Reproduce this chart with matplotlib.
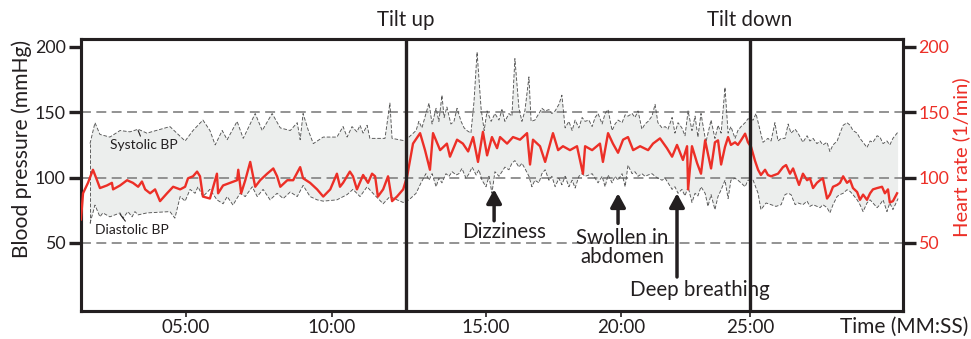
import numpy as np
import matplotlib
matplotlib.use("Agg")
import matplotlib.pyplot as plt
import matplotlib.transforms as mtransforms

plt.rcParams['font.family'] = ['Lato', 'DejaVu Sans']

# ---- data (time in minutes) ----
sys_t = [1.71, 1.88, 2.05, 2.39, 2.74, 3.08, 3.36, 3.66, 4.45, 4.97,
         5.24, 5.58, 5.82, 6.00, 6.24, 6.41, 6.75, 6.96, 7.37, 7.61,
         7.95, 8.23, 8.57, 8.81, 8.91, 9.01, 9.19, 9.36, 9.70, 10.16,
         10.36, 10.49, 10.65, 10.81, 10.91, 11.01, 11.14, 11.23, 11.72, 11.88,
         11.95, 12.40, 12.50, 12.73, 12.82, 12.92, 13.05, 13.15, 13.25, 13.38,
         13.47, 13.57, 13.64, 13.73, 13.86, 13.96, 14.06, 14.19, 14.29, 14.38,
         14.51, 14.61, 14.71, 14.84, 14.94, 15.04, 15.19, 15.33, 15.48, 15.59,
         15.70, 15.85, 15.96, 16.07, 16.22, 16.33, 16.44, 16.59, 16.67, 16.81,
         16.96, 17.07, 17.19, 17.33, 17.44, 17.56, 17.70, 17.81, 17.93, 18.07,
         18.19, 18.30, 18.44, 18.56, 18.67, 18.81, 18.93, 19.04, 19.15, 19.30,
         19.41, 19.52, 19.67, 19.78, 19.89, 20.04, 20.16, 20.27, 20.43, 20.54,
         20.66, 20.81, 20.93, 21.05, 21.20, 21.32, 21.43, 21.59, 21.71, 21.82,
         21.98, 22.09, 22.21, 22.36, 22.48, 22.60, 22.75, 22.87, 22.98, 23.10,
         23.29, 23.49, 23.64, 23.76, 23.88, 24.03, 24.15, 24.26, 24.42, 24.53,
         24.65, 24.81, 24.92, 25.12, 25.23, 25.39, 25.50, 25.69, 25.81, 25.96,
         26.08, 26.20, 26.35, 26.47, 26.58, 26.74, 26.85, 27.04, 27.20, 27.31,
         27.43, 27.58, 27.70, 27.81, 27.97, 28.08, 28.20, 28.36, 28.47, 28.59,
         28.74, 28.86, 28.97, 29.13, 29.24, 29.36, 29.51, 29.63, 29.74, 29.90,
         30.01, 30.13, 30.28, 30.39, 30.51, 30.71]
systolic = [126, 142, 133, 131, 136, 135, 137, 134, 139, 128,
            136, 144, 136, 125, 136, 129, 143, 130, 149, 136,
            149, 138, 136, 142, 129, 149, 136, 126, 131, 131,
            139, 131, 139, 135, 140, 134, 140, 130, 130, 157,
            130, 128, 131, 136, 143, 138, 149, 157, 141, 153,
            143, 163, 146, 154, 141, 143, 153, 143, 138, 136,
            134, 158, 196, 153, 136, 151, 143, 149, 144, 152,
            143, 149, 147, 191, 153, 143, 151, 177, 143, 144,
            149, 153, 151, 152, 149, 151, 156, 163, 138, 143,
            136, 144, 138, 146, 143, 144, 139, 146, 149, 141,
            149, 152, 136, 141, 144, 142, 148, 147, 149, 146,
            151, 137, 141, 143, 147, 156, 142, 138, 139, 137,
            146, 134, 142, 138, 132, 151, 136, 147, 131, 149,
            127, 144, 130, 140, 134, 169, 134, 139, 130, 136,
            139, 142, 145, 144, 149, 136, 127, 130, 128, 142,
            128, 130, 130, 141, 134, 137, 134, 127, 132, 128,
            130, 126, 128, 125, 127, 120, 125, 128, 134, 140,
            142, 140, 136, 134, 130, 127, 123, 128, 127, 132,
            131, 126, 128, 125, 130, 135]

dia_t = [1.71, 1.88, 2.05, 2.15, 2.39, 2.74, 2.84, 3.01, 3.15, 3.25,
         3.36, 3.66, 4.45, 4.62, 4.80, 4.97, 5.14, 5.31, 5.41, 5.58,
         5.82, 6.06, 6.27, 6.41, 6.61, 6.85, 7.03, 7.27, 7.44, 7.64,
         7.88, 8.12, 8.33, 8.57, 8.81, 9.01, 9.25, 9.49, 9.70, 10.16,
         10.49, 10.68, 10.91, 11.14, 11.33, 11.66, 11.88, 12.11, 12.31, 12.50,
         12.73, 12.89, 13.05, 13.15, 13.25, 13.38, 13.47, 13.57, 13.70, 13.80,
         13.90, 14.03, 14.12, 14.22, 14.35, 14.45, 14.55, 14.68, 14.77, 14.87,
         15.00, 15.11, 15.22, 15.33, 15.48, 15.59, 15.70, 15.85, 15.96, 16.07,
         16.22, 16.33, 16.44, 16.59, 16.70, 16.81, 16.96, 17.07, 17.19, 17.33,
         17.44, 17.56, 17.70, 17.81, 17.93, 18.07, 18.19, 18.30, 18.44, 18.56,
         18.67, 18.81, 18.93, 19.15, 19.30, 19.41, 19.52, 19.67, 19.78, 19.89,
         20.04, 20.16, 20.27, 20.43, 20.54, 20.66, 20.81, 20.93, 21.05, 21.20,
         21.32, 21.43, 21.59, 21.71, 21.82, 21.98, 22.09, 22.21, 22.36, 22.48,
         22.60, 22.75, 22.87, 22.98, 23.10, 23.26, 23.37, 23.49, 23.64, 23.76,
         23.88, 24.03, 24.15, 24.26, 24.42, 24.53, 24.65, 24.81, 24.92, 25.12,
         25.31, 25.42, 25.62, 25.81, 26.00, 26.20, 26.35, 26.47, 26.58, 26.74,
         26.85, 27.04, 27.20, 27.31, 27.43, 27.58, 27.70, 27.81, 27.97, 28.08,
         28.20, 28.36, 28.47, 28.59, 28.74, 28.86, 28.97, 29.13, 29.24, 29.36,
         29.51, 29.63, 29.74, 29.90, 30.01, 30.13, 30.28, 30.39, 30.51, 30.71]
diastolic = [65, 79, 70, 73, 70, 73, 69, 74, 70, 74,
             71.5, 73, 74, 69, 85.5, 82, 91, 88, 93, 85.5,
             91, 83, 80, 85.5, 79, 88, 85.5, 93, 85.5, 91,
             83, 88, 84, 89, 85.5, 94, 85.5, 83, 82, 83,
             87, 91, 85.5, 93, 88, 80, 85.5, 83, 81, 83,
             88, 96, 103, 98, 103, 93, 99.5, 96, 103, 101,
             104.5, 102, 103, 107, 99.5, 103, 108, 102, 106, 98,
             93, 101, 88, 104.5, 101, 104.5, 108, 106, 111, 113,
             108, 111, 107, 101, 93, 98, 96, 103, 106, 98,
             101, 93, 99.5, 94.5, 101, 93, 98, 92, 101, 103,
             101, 102, 103, 96, 101, 93, 102, 96, 101, 98,
             103, 93, 109.5, 103, 104.5, 101, 103, 101, 102, 103,
             101, 99.5, 98, 99.5, 96, 91, 93, 88, 91, 86,
             93, 81, 88, 86, 93, 88, 78, 87, 75.5, 85.6,
             90.7, 98, 84, 98, 99.5, 98, 96, 93, 98, 98,
             88, 75.5, 80.6, 79.3, 78, 79.3, 87, 88, 87, 79.3,
             80.6, 79.3, 82, 78, 79.3, 78, 77, 79.3, 77, 73,
             79.3, 85.6, 87, 88, 90.7, 89.4, 87, 83, 79.3, 74,
             80.6, 83, 80.6, 77, 79.3, 83, 74, 80.6, 75.5, 84]

hr_t = [1.40, 1.47, 1.64, 1.81, 1.95, 2.05, 2.29, 2.46, 2.50, 2.74,
        2.98, 3.18, 3.36, 3.49, 3.60, 3.77, 3.94, 4.11, 4.35, 4.56,
        4.80, 4.97, 5.07, 5.24, 5.38, 5.48, 5.58, 5.82, 6.06, 6.10,
        6.27, 6.51, 6.75, 6.79, 6.89, 7.03, 7.20, 7.37, 7.54, 7.78,
        7.99, 8.12, 8.23, 8.47, 8.67, 8.91, 9.01, 9.25, 9.49, 9.70,
        9.94, 10.16, 10.26, 10.36, 10.58, 10.68, 10.81, 11.01, 11.17, 11.30,
        11.40, 11.49, 11.66, 11.82, 11.95, 12.11, 12.31, 12.44, 12.63, 12.86,
        13.02, 13.18, 13.28, 13.51, 13.73, 13.83, 14.06, 14.25, 14.42, 14.58,
        14.74, 14.90, 15.04, 15.22, 15.41, 15.52, 15.78, 16.00, 16.26, 16.52,
        16.63, 16.74, 17.00, 17.19, 17.48, 17.67, 17.85, 18.11, 18.37, 18.59,
        18.67, 18.93, 19.22, 19.33, 19.52, 19.70, 19.89, 20.08, 20.27, 20.47,
        20.74, 21.05, 21.24, 21.51, 21.78, 21.98, 22.17, 22.40, 22.56, 22.60,
        22.75, 22.95, 23.10, 23.26, 23.37, 23.49, 23.64, 23.76, 23.88, 24.03,
        24.15, 24.26, 24.42, 24.53, 24.65, 24.81, 24.92, 25.04, 25.19, 25.31,
        25.42, 25.58, 25.69, 25.81, 26.08, 26.27, 26.39, 26.54, 26.66, 26.77,
        26.89, 27.04, 27.20, 27.31, 27.43, 27.58, 27.70, 27.81, 27.97, 28.08,
        28.20, 28.36, 28.47, 28.59, 28.74, 28.86, 28.97, 29.13, 29.24, 29.36,
        29.51, 29.63, 29.74, 29.90, 30.09, 30.20, 30.32, 30.39, 30.51, 30.67]
heart_rate = [68, 88, 96, 106, 98, 92, 94, 96, 91, 94,
              98, 96, 93, 97, 91, 88, 91, 82, 88, 93,
              91, 93, 99.5, 101, 104.6, 101, 85.5, 84, 103, 88,
              94, 96, 98, 106, 88, 98, 112, 93, 98, 103,
              107, 101, 93, 98, 98, 108, 99.5, 96, 91, 85.5,
              91, 103, 93, 96, 104.6, 101, 91, 102, 96, 103,
              101, 85.5, 91, 101, 82, 85.5, 91, 101, 126, 134,
              121, 106, 134, 121, 126, 116, 129, 126, 120, 131,
              112, 135, 117, 131, 122.5, 131, 126, 131, 129, 134,
              110, 129, 124, 112, 134, 121, 124, 121, 124, 103,
              124, 121, 126, 112, 134, 126, 119, 129, 131, 121,
              124, 121, 126, 130, 122.5, 116, 125, 113.5, 124, 91,
              124, 111, 103, 128.5, 118, 107, 127, 128.5, 110, 123.5,
              131, 125, 127, 125, 128.5, 133.6, 127, 123.5, 113, 106,
              102, 106, 102, 101, 103, 108, 109.6, 103, 107, 101,
              94.4, 103, 98, 99.5, 92, 96, 98, 99.5, 84, 87,
              93, 94.4, 96, 101, 96, 98, 92, 89, 83, 87,
              83, 88, 91, 92, 93, 88, 91, 81, 82, 88]

tilt_up = 12.4
tilt_down = 25.0

tick_minutes = [5, 10, 15, 20, 25]
tick_labels = ['05:00', '10:00', '15:00', '20:00', '25:00']
y_ticks = [50, 100, 150, 200]

# events: (label, arrow time, arrow tip, arrow tail, text time, text y)
events = [('Dizziness', 15.3, 91, 67, 15.67, 58.7),
          ('Swollen in\nabdomen', 19.89, 88, 65, 20.04, 46.6),
          ('Deep breathing', 22.17, 88, 24, 23.05, 14)]

# ---- uneven time axis (recording samples are not evenly spaced) ----
knot_min = [0.0, 1.4, 5, 10, 15, 20, 25, 30.9, 32.0]
knot_pos = [-40.8, 0, 105, 251, 405, 540, 669, 822, 850.5]


def fwd(t):
    return np.interp(t, knot_min, knot_pos)


def inv(u):
    return np.interp(u, knot_pos, knot_min)


ink = '#231f20'
red = '#ec2f27'

fig = plt.figure(figsize=(9.71, 3.39), dpi=100)
ax = fig.add_axes([0.0834, 0.0826, 0.8466, 0.8024])
ax.set_xscale('function', functions=(fwd, inv))
ax2 = ax.twinx()

for a in (ax, ax2):
    a.set_xlim(1.4, 30.9)
    a.set_ylim(-2, 206)
    a.set_yticks(y_ticks)
    for s in a.spines.values():
        s.set_linewidth(2.2)
        s.set_color(ink)

# shaded systolic-diastolic band
poly_t = np.concatenate([sys_t, dia_t[::-1]])
poly_v = np.concatenate([systolic, diastolic[::-1]])
ax.fill(poly_t, poly_v, color='#eceeed', lw=0, zorder=1)

for v in [50, 100, 150]:
    ax.axhline(v, color='#8a8a8a', lw=1.3, ls=(0, (5.5, 3)), zorder=1.5)

bp_style = dict(color='#555555', lw=0.65, ls=(0, (4, 2)), zorder=2)
ax.plot(sys_t, systolic, **bp_style)
ax.plot(dia_t, diastolic, **bp_style)
ax.plot([dia_t[0], sys_t[0]], [diastolic[0], systolic[0]], **bp_style)

ax.annotate('Systolic BP', xy=(3.36, 136), xytext=(3.56, 125),
            ha='center', va='center', fontsize=10, color=ink,
            arrowprops=dict(arrowstyle='-', lw=0.8, color=ink, shrinkA=0, shrinkB=0))
ax.annotate('Diastolic BP', xy=(2.74, 72), xytext=(3.15, 60),
            ha='center', va='center', fontsize=10, color=ink,
            arrowprops=dict(arrowstyle='-', lw=0.8, color=ink, shrinkA=0, shrinkB=0))

# heart rate
ax2.plot(hr_t, heart_rate, color=red, lw=1.7, zorder=3, solid_joinstyle='round')

# tilt markers
trans = mtransforms.blended_transform_factory(ax.transData, ax.transAxes)
for t, lab in [(tilt_up, 'Tilt up'), (tilt_down, 'Tilt down')]:
    ax2.axvline(t, color=ink, lw=2.4, zorder=5)
    ax.text(t, 1.07, lab, transform=trans, ha='center', va='center',
            fontsize=14.8, color=ink)

# event arrows
for lab, t, tip, tail, tx, ty in events:
    ax2.annotate('', xy=(t, tip), xytext=(t, tail),
                 arrowprops=dict(arrowstyle='-|>,head_width=0.3,head_length=0.55',
                                 lw=2.5, color=ink, mutation_scale=15,
                                 shrinkA=0, shrinkB=0))
    ax2.text(tx, ty, lab, ha='center', va='center', fontsize=14.8,
             color=ink, linespacing=0.95, zorder=6)

# ticks
ax.set_xticks(tick_minutes)
ax.set_xticklabels(tick_labels)
ax.tick_params(axis='x', direction='out', length=4, width=1.2, labelsize=13.5,
               pad=2, colors=ink)
ax.tick_params(axis='y', direction='out', length=9, width=2.4, labelsize=12.8,
               pad=2, colors=ink)
ax2.tick_params(axis='y', direction='out', length=9, width=2.4, labelsize=12.8,
                pad=2, color=ink, labelcolor=red)

ax.text(-0.072, 0.596, 'Blood pressure (mmHg)', transform=ax.transAxes,
        rotation=90, ha='center', va='center', fontsize=15.2, color=ink)
ax2.text(1.071, 0.566, 'Heart rate (1/min)', transform=ax.transAxes,
         rotation=90, ha='center', va='center', fontsize=14.5, color=red)
ax.text(1.079, -0.059, 'Time (MM:SS)', transform=ax.transAxes,
        ha='right', va='center', fontsize=15, color=ink)

fig.savefig('out.png', dpi=100)
